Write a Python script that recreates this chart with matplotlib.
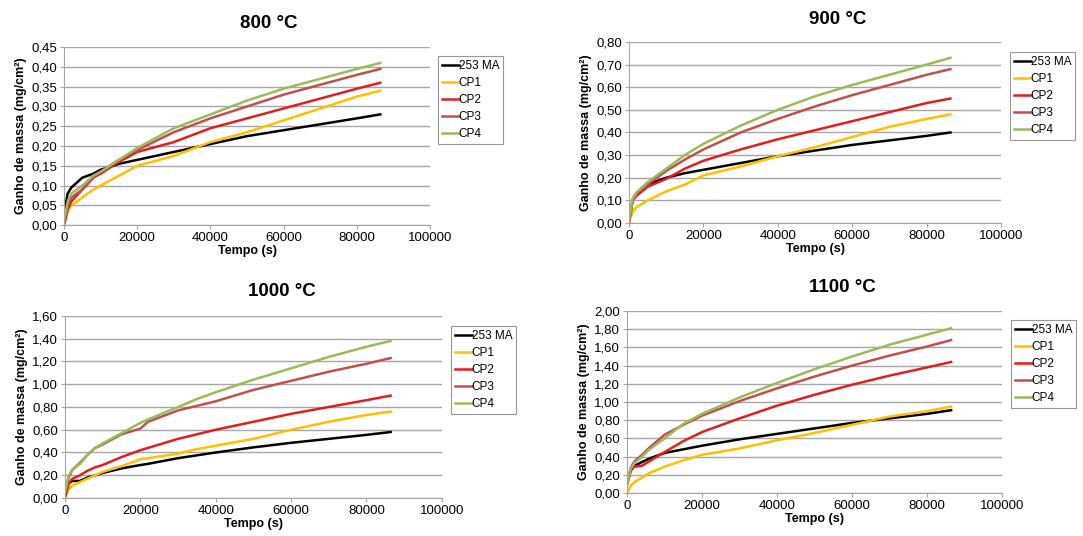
import matplotlib
matplotlib.use("Agg")
import matplotlib.pyplot as plt
from matplotlib.ticker import FuncFormatter

plt.rcParams['font.family'] = ['Liberation Sans', 'DejaVu Sans']

# Series labels and colours
labels = ["253 MA", "CP1", "CP2", "CP3", "CP4"]
colors = ["#000000", "#FFC000", "#E41E1E", "#C0504D", "#9BBB59"]

# ---- 800 °C ----
t800 = [0, 1000, 2000, 5000, 8000, 10000, 15000, 20000, 30000, 40000, 50000, 60000, 70000, 80000, 86400]
ma_800 = [0.03, 0.08, 0.095, 0.12, 0.13, 0.14, 0.155, 0.165, 0.185, 0.205, 0.225, 0.24, 0.255, 0.27, 0.28]
cp1_800 = [0.0, 0.035, 0.05, 0.07, 0.09, 0.10, 0.125, 0.15, 0.175, 0.21, 0.235, 0.265, 0.295, 0.325, 0.34]
cp2_800 = [0.0, 0.04, 0.06, 0.09, 0.12, 0.13, 0.16, 0.185, 0.21, 0.245, 0.27, 0.295, 0.32, 0.345, 0.36]
cp3_800 = [0.01, 0.05, 0.07, 0.09, 0.12, 0.135, 0.165, 0.19, 0.235, 0.27, 0.30, 0.33, 0.355, 0.38, 0.395]
cp4_800 = [0.01, 0.06, 0.08, 0.10, 0.125, 0.135, 0.165, 0.195, 0.245, 0.28, 0.315, 0.345, 0.37, 0.395, 0.41]

# ---- 900 °C ----
t900 = [0, 1000, 2000, 5000, 10000, 15000, 20000, 30000, 40000, 50000, 60000, 70000, 80000, 86400]
ma_900 = [0.02, 0.10, 0.13, 0.17, 0.20, 0.22, 0.235, 0.265, 0.295, 0.32, 0.345, 0.365, 0.385, 0.40]
cp1_900 = [0.0, 0.05, 0.07, 0.10, 0.14, 0.17, 0.21, 0.25, 0.295, 0.335, 0.38, 0.425, 0.46, 0.48]
cp2_900 = [0.0, 0.10, 0.12, 0.16, 0.195, 0.24, 0.275, 0.325, 0.37, 0.41, 0.45, 0.49, 0.53, 0.55]
cp3_900 = [0.01, 0.10, 0.13, 0.17, 0.23, 0.28, 0.325, 0.40, 0.46, 0.515, 0.565, 0.61, 0.655, 0.68]
cp4_900 = [0.01, 0.11, 0.135, 0.18, 0.24, 0.30, 0.35, 0.43, 0.50, 0.56, 0.61, 0.655, 0.70, 0.73]

# ---- 1000 °C ----
t1000 = [0, 1000, 2000, 4000, 6000, 8000, 10000, 15000, 20000, 22000, 30000, 35000, 40000, 50000, 60000, 70000, 80000, 86400]
ma_1000 = [0.08, 0.13, 0.15, 0.15, 0.18, 0.20, 0.22, 0.26, 0.29, 0.30, 0.35, 0.375, 0.40, 0.445, 0.485, 0.52, 0.555, 0.58]
cp1_1000 = [0.0, 0.08, 0.11, 0.14, 0.17, 0.20, 0.23, 0.28, 0.34, 0.35, 0.39, 0.43, 0.46, 0.52, 0.60, 0.67, 0.73, 0.76]
cp2_1000 = [0.0, 0.13, 0.17, 0.20, 0.24, 0.27, 0.29, 0.36, 0.42, 0.44, 0.52, 0.56, 0.60, 0.67, 0.74, 0.80, 0.86, 0.90]
cp3_1000 = [0.05, 0.18, 0.25, 0.31, 0.38, 0.44, 0.47, 0.56, 0.61, 0.67, 0.77, 0.81, 0.85, 0.95, 1.03, 1.11, 1.18, 1.23]
cp4_1000 = [0.05, 0.20, 0.25, 0.30, 0.38, 0.44, 0.48, 0.57, 0.66, 0.69, 0.80, 0.87, 0.93, 1.04, 1.14, 1.24, 1.33, 1.38]

# ---- 1100 °C ----
t1100 = [0, 1000, 2000, 4000, 6000, 10000, 15000, 20000, 30000, 40000, 50000, 60000, 70000, 80000, 86400]
ma_1100 = [0.10, 0.25, 0.30, 0.34, 0.38, 0.44, 0.48, 0.52, 0.59, 0.65, 0.71, 0.77, 0.82, 0.87, 0.91]
cp1_1100 = [0.0, 0.08, 0.12, 0.17, 0.22, 0.29, 0.36, 0.42, 0.49, 0.58, 0.66, 0.75, 0.84, 0.90, 0.95]
cp2_1100 = [0.10, 0.25, 0.29, 0.30, 0.35, 0.45, 0.57, 0.67, 0.82, 0.96, 1.08, 1.19, 1.29, 1.38, 1.44]
cp3_1100 = [0.10, 0.28, 0.35, 0.42, 0.50, 0.64, 0.75, 0.85, 1.01, 1.15, 1.28, 1.40, 1.51, 1.61, 1.68]
cp4_1100 = [0.10, 0.27, 0.33, 0.40, 0.48, 0.60, 0.76, 0.87, 1.05, 1.21, 1.36, 1.50, 1.63, 1.74, 1.81]

panels = [
    ("800 °C", t800, [ma_800, cp1_800, cp2_800, cp3_800, cp4_800], 0.45, 0.05,
     [0.0591, 0.580, 0.338, 0.332], (0.4044, 0.8955), (269, 24)),
    ("900 °C", t900, [ma_900, cp1_900, cp2_900, cp3_900, cp4_900], 0.80, 0.10,
     [0.5808, 0.584, 0.3435, 0.3377], (0.9326, 0.903), (838, 19)),
    ("1000 °C", t1000, [ma_1000, cp1_1000, cp2_1000, cp3_1000, cp4_1000], 1.60, 0.20,
     [0.0600, 0.0709, 0.348, 0.3396], (0.4164, 0.3918), (282, 292)),
    ("1100 °C", t1100, [ma_1100, cp1_1100, cp2_1100, cp3_1100, cp4_1100], 2.00, 0.20,
     [0.5790, 0.0802, 0.3463, 0.3396], (0.9335, 0.403), (842, 287)),
]

W, H = 1083, 536
fig = plt.figure(figsize=(W / 100, H / 100), dpi=100)

comma = FuncFormatter(lambda v, p: f"{v:.2f}".replace(".", ","))

for title, t, series, ymax, ystep, rect, leg_xy, title_xy in panels:
    ax = fig.add_axes(rect)
    for vals, lab, col in zip(series, labels, colors):
        ax.plot(t, vals, color=col, lw=1.8, label=lab)
    ax.set_xlim(0, 100000)
    ax.set_ylim(0, ymax)
    ax.set_xticks(range(0, 100001, 20000))
    n = int(round(ymax / ystep))
    ax.set_yticks([i * ystep for i in range(n + 1)])
    ax.yaxis.set_major_formatter(comma)
    ax.grid(axis='y', color='#a6a6a6', lw=1.0)
    ax.set_axisbelow(True)
    for s in ['top', 'right']:
        ax.spines[s].set_visible(False)
    for s in ['left', 'bottom']:
        ax.spines[s].set_color('#a6a6a6')
    ax.tick_params(axis='both', labelsize=9.5, length=3, color='#a6a6a6', pad=2)
    ax.set_xlabel("Tempo (s)", fontsize=9, fontweight='bold', labelpad=1)
    ax.set_ylabel("Ganho de massa (mg/cm²)", fontsize=9, fontweight='bold', labelpad=3)
    fig.text(title_xy[0] / W, 1 - title_xy[1] / H, title, ha='center', va='center',
             fontsize=13.5, fontweight='bold')
    leg = ax.legend(loc='upper left', bbox_to_anchor=leg_xy, bbox_transform=fig.transFigure,
                    fontsize=8.5, frameon=True, fancybox=False, handlelength=1.4,
                    handletextpad=0.0, labelspacing=0.42, borderpad=0.35, borderaxespad=0)
    leg.get_frame().set_edgecolor('#7f7f7f')
    leg.get_frame().set_linewidth(0.8)

fig.savefig("out.png", dpi=100)
